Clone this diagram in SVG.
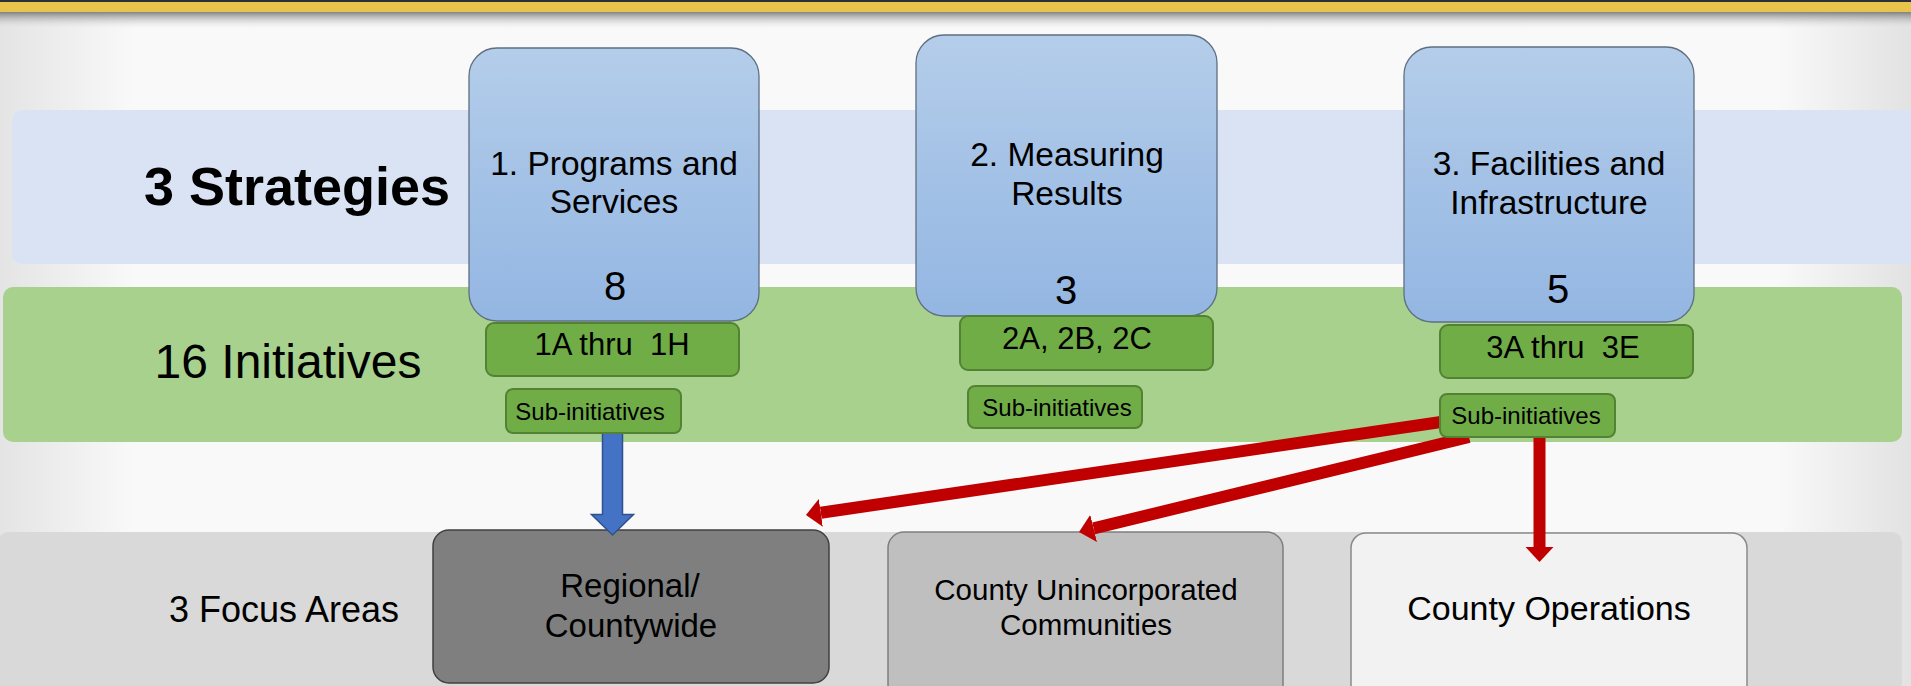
<svg xmlns="http://www.w3.org/2000/svg" width="1911" height="686" viewBox="0 0 1911 686">
  <defs>
    <linearGradient id="bgGrad" x1="0" y1="0" x2="1" y2="0">
      <stop offset="0" stop-color="#e4e4e4"/>
      <stop offset="0.07" stop-color="#f9f9f9"/>
      <stop offset="0.93" stop-color="#f9f9f9"/>
      <stop offset="1" stop-color="#e2e2e2"/>
    </linearGradient>
    <linearGradient id="shadowGrad" x1="0" y1="0" x2="0" y2="1">
      <stop offset="0" stop-color="#6f6f6f" stop-opacity="0.85"/>
      <stop offset="1" stop-color="#f9f9f9" stop-opacity="0"/>
    </linearGradient>
    <linearGradient id="stratGrad" x1="0" y1="0" x2="0" y2="1">
      <stop offset="0" stop-color="#b4cdea"/>
      <stop offset="1" stop-color="#93b6e2"/>
    </linearGradient>
    <marker id="redHead" markerUnits="userSpaceOnUse" markerWidth="18" markerHeight="32" viewBox="0 -16 18 32" refX="0" refY="0" orient="auto">
      <path d="M0,-14 L15,0 L0,14 Z" fill="#c00000"/>
    </marker>
  </defs>
  <style>
    .txt { font-family: "Liberation Sans", Arial, sans-serif; fill: #000; text-anchor: middle; }
    .strat { fill: url(#stratGrad); stroke: #5f6f82; stroke-width: 1.3; }
    .init { fill: #70ad47; stroke: #548235; stroke-width: 2; }
    .red { stroke: #c00000; stroke-width: 12; fill: none; stroke-linecap: butt; marker-end: url(#redHead); }
  </style>

  <!-- background -->
  <rect x="0" y="0" width="1911" height="686" fill="url(#bgGrad)"/>
  <rect x="0" y="12" width="1911" height="18" fill="url(#shadowGrad)"/>
  <rect x="0" y="0" width="1911" height="3" fill="#2b3038"/>
  <rect x="0" y="2" width="1911" height="10" fill="#e8c44c"/>

  <!-- bands -->
  <g id="bands">
    <rect x="12" y="110" width="1920" height="154" rx="10" fill="#dae3f3"/>
    <rect x="3" y="287" width="1899" height="155" rx="10" fill="#a9d18e"/>
    <rect x="-2" y="532" width="1904" height="170" rx="10" fill="#d9d9d9"/>
  </g>

  <!-- row labels -->
  <g id="label-strategies"><text class="txt" x="297" y="205" font-size="54" font-weight="bold">3 Strategies</text></g>
  <g id="label-initiatives"><text class="txt" x="288" y="378" font-size="48">16 Initiatives</text></g>
  <g id="label-focus"><text class="txt" x="284" y="622" font-size="36">3 Focus Areas</text></g>

  <!-- focus areas -->
  <g id="focus-regional">
    <rect x="433" y="530" width="396" height="153" rx="16" fill="#7f7f7f" stroke="#404040" stroke-width="1.5"/>
    <text class="txt" x="630" y="597" font-size="33">Regional/</text>
    <text class="txt" x="631" y="637" font-size="33">Countywide</text>
  </g>
  <g id="focus-unincorporated">
    <rect x="888" y="532" width="395" height="170" rx="16" fill="#bfbfbf" stroke="#7f7f7f" stroke-width="1.5"/>
    <text class="txt" x="1086" y="600" font-size="29.5">County Unincorporated</text>
    <text class="txt" x="1086" y="635" font-size="29.5">Communities</text>
  </g>
  <g id="focus-operations">
    <rect x="1351" y="533" width="396" height="170" rx="15" fill="#f2f2f2" stroke="#8a8a8a" stroke-width="1.5"/>
    <text class="txt" x="1549" y="620" font-size="34">County Operations</text>
  </g>

  <!-- connectors -->
  <g id="connectors">
    <polygon points="602.5,432 622.5,432 622.5,514.5 633.5,514.5 612.5,535 591.5,514.5 602.5,514.5" fill="#4472c4" stroke="#2f528f" stroke-width="1.5" stroke-linejoin="miter"/>
    <line class="red" x1="1441" y1="422" x2="820.8" y2="512.8"/>
    <line class="red" x1="1469" y1="437" x2="1093.6" y2="528.4"/>
    <line class="red" x1="1539.5" y1="437" x2="1539.5" y2="547"/>
  </g>

  <!-- strategies -->
  <g id="strategy-1">
    <rect class="strat" x="469" y="48" width="290" height="273" rx="28"/>
    <text class="txt" x="614" y="175" font-size="33.5">1. Programs and</text>
    <text class="txt" x="614" y="213" font-size="33.5">Services</text>
    <text class="txt" x="615" y="300" font-size="40">8</text>
  </g>
  <g id="strategy-2">
    <rect class="strat" x="916" y="35" width="301" height="281" rx="28"/>
    <text class="txt" x="1067" y="166" font-size="33.5">2. Measuring</text>
    <text class="txt" x="1067" y="205" font-size="33.5">Results</text>
    <text class="txt" x="1066" y="304" font-size="40">3</text>
  </g>
  <g id="strategy-3">
    <rect class="strat" x="1404" y="47" width="290" height="275" rx="28"/>
    <text class="txt" x="1549" y="175" font-size="33.5">3. Facilities and</text>
    <text class="txt" x="1549" y="214" font-size="33.5">Infrastructure</text>
    <text class="txt" x="1558" y="303" font-size="40">5</text>
  </g>

  <!-- initiatives -->
  <g id="initiative-1">
    <rect class="init" x="486" y="323" width="253" height="53" rx="8"/>
    <text class="txt" x="612" y="355" font-size="31" xml:space="preserve">1A thru  1H</text>
  </g>
  <g id="initiative-2">
    <rect class="init" x="960" y="316" width="253" height="54" rx="8"/>
    <text class="txt" x="1077" y="349" font-size="31">2A, 2B, 2C</text>
  </g>
  <g id="initiative-3">
    <rect class="init" x="1440" y="325" width="253" height="53" rx="8"/>
    <text class="txt" x="1563" y="358" font-size="31" xml:space="preserve">3A thru  3E</text>
  </g>

  <!-- sub-initiatives -->
  <g id="sub-1">
    <rect class="init" x="506" y="389" width="175" height="44" rx="7"/>
    <text class="txt" x="590" y="420" font-size="24">Sub-initiatives</text>
  </g>
  <g id="sub-2">
    <rect class="init" x="968" y="386" width="174" height="42" rx="7"/>
    <text class="txt" x="1057" y="416" font-size="24">Sub-initiatives</text>
  </g>
  <g id="sub-3">
    <rect class="init" x="1440" y="394" width="175" height="43" rx="7"/>
    <text class="txt" x="1526" y="424" font-size="24">Sub-initiatives</text>
  </g>
</svg>
